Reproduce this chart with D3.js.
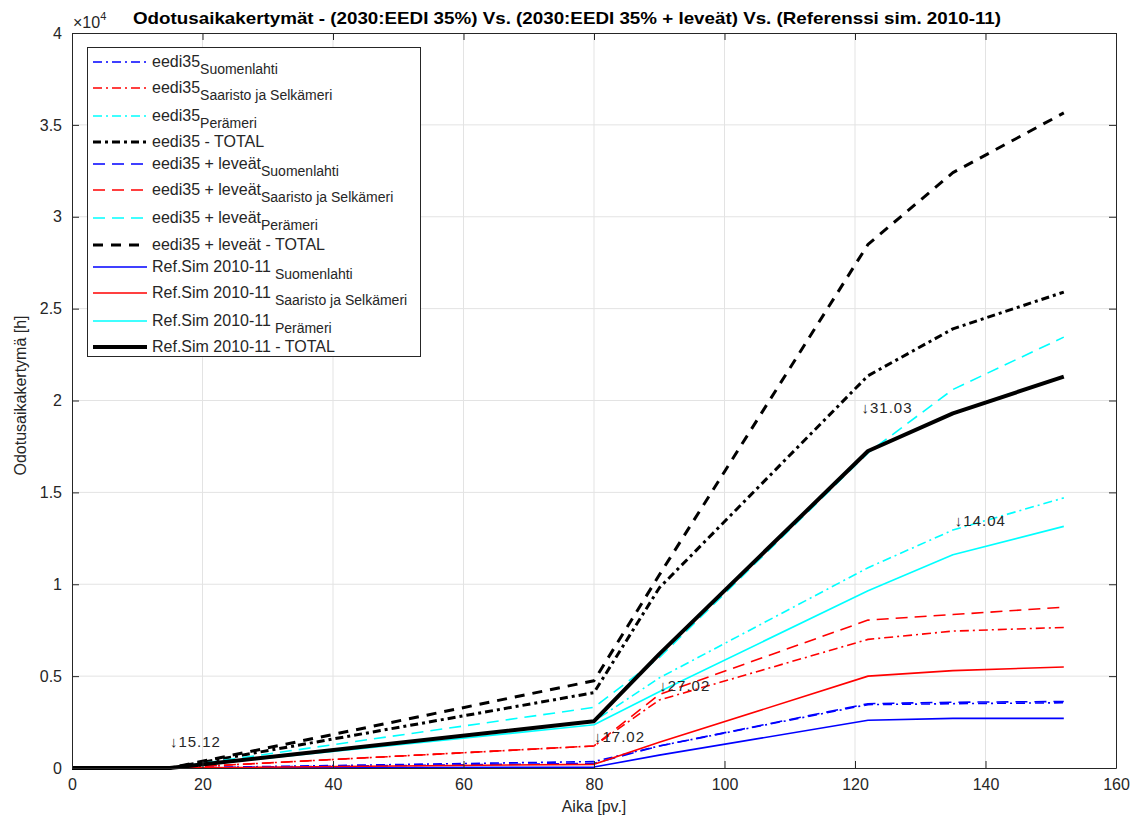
<!DOCTYPE html>
<html>
<head>
<meta charset="utf-8">
<script src="https://cdn.jsdelivr.net/npm/d3@7"></script>
<style>
    body { margin: 0; background: #fff; }
    svg { font-family: "Liberation Sans", Arial, Helvetica, sans-serif; }
</style>
</head>
<body>
<svg id="chart" width="1137" height="821"></svg>
<script>
    // days of the season (x) and cumulative waiting time [h]
    const days = [0, 15, 80, 90, 122, 135, 152];

    const eedi35Suomenlahti = [0, 0, 350, 1200, 3450, 3500, 3550];
    const eedi35Saaristo    = [0, 0, 1200, 3700, 7000, 7450, 7650];
    const eedi35Peramer     = [0, 0, 2550, 4900, 10900, 12950, 14700];
    const eedi35Total       = [0, 0, 4100, 9800, 21350, 23900, 25900];

    const leveatSuomenlahti = [0, 0, 250, 1200, 3500, 3580, 3620];
    const leveatSaaristo    = [0, 0, 1200, 4000, 8050, 8350, 8750];
    const leveatPeramer     = [0, 0, 3300, 6000, 17150, 20600, 23450];
    const leveatTotal       = [0, 0, 4750, 10500, 28500, 32400, 35650];

    const refSuomenlahti = [0, 0, 50, 700, 2600, 2700, 2700];
    const refSaaristo    = [0, 0, 200, 1400, 5000, 5300, 5500];
    const refPeramer     = [0, 0, 2350, 4150, 9650, 11600, 13150];
    const refTotal       = [0, 0, 2550, 6200, 17250, 19300, 21300];

    const xTicks = [0, 20, 40, 60, 80, 100, 120, 140, 160];
    const yTicks = [0, 5000, 10000, 15000, 20000, 25000, 30000, 35000, 40000];

    // date marks: [day, y, text]
    const dateMarks = [
        [15, 1450, '\u219315.12'],
        [80, 1680, '\u219317.02'],
        [90, 4450, '\u219327.02'],
        [121, 19600, '\u219331.03'],
        [135.3, 13450, '\u219314.04']
    ];

    const title = 'Odotusaikakertymät - (2030:EEDI 35%) Vs. (2030:EEDI 35% + leveät) Vs. (Referenssi sim. 2010-11)';

    const dashDot = '9,4,2,4';
    const dashed = '12,7';
    const series = [
        { name: 'eedi35', sub: 'Suomenlahti', values: eedi35Suomenlahti, color: '#0000ff', dash: dashDot, w: 1.6 },
        { name: 'eedi35', sub: 'Saaristo ja Selkämeri', values: eedi35Saaristo, color: '#ff0000', dash: dashDot, w: 1.6 },
        { name: 'eedi35', sub: 'Perämeri', values: eedi35Peramer, color: '#00ffff', dash: dashDot, w: 1.6 },
        { name: 'eedi35 - TOTAL', sub: '', values: eedi35Total, color: '#000000', dash: '8,4,3,4', w: 3 },
        { name: 'eedi35 + leveät', sub: 'Suomenlahti', values: leveatSuomenlahti, color: '#0000ff', dash: dashed, w: 1.6 },
        { name: 'eedi35 + leveät', sub: 'Saaristo ja Selkämeri', values: leveatSaaristo, color: '#ff0000', dash: dashed, w: 1.6 },
        { name: 'eedi35 + leveät', sub: 'Perämeri', values: leveatPeramer, color: '#00ffff', dash: dashed, w: 1.6 },
        { name: 'eedi35 + leveät - TOTAL', sub: '', values: leveatTotal, color: '#000000', dash: '10,8', w: 3 },
        { name: 'Ref.Sim 2010-11', sub: 'Suomenlahti', values: refSuomenlahti, color: '#0000ff', dash: null, w: 1.6 },
        { name: 'Ref.Sim 2010-11', sub: 'Saaristo ja Selkämeri', values: refSaaristo, color: '#ff0000', dash: null, w: 1.6 },
        { name: 'Ref.Sim 2010-11', sub: 'Perämeri', values: refPeramer, color: '#00ffff', dash: null, w: 1.6 },
        { name: 'Ref.Sim 2010-11 - TOTAL', sub: '', values: refTotal, color: '#000000', dash: null, w: 4 }
    ];

    const svg = d3.select('#chart');
    const mLeft = 72, mRight = 1116, mTop = 33, mBottom = 768;
    const axisColor = '#262626';

    const x = d3.scaleLinear().domain([0, 160]).range([mLeft, mRight]);
    const y = d3.scaleLinear().domain([0, 40000]).range([mBottom, mTop]);

    // grid
    const grid = svg.append('g').attr('stroke', '#e3e3e3').attr('stroke-width', 1);
    grid.selectAll('line.gx').data(xTicks.slice(1, -1)).join('line')
        .attr('x1', d => x(d)).attr('x2', d => x(d)).attr('y1', mTop).attr('y2', mBottom);
    grid.selectAll('line.gy').data(yTicks.slice(1, -1)).join('line')
        .attr('y1', d => y(d)).attr('y2', d => y(d)).attr('x1', mLeft).attr('x2', mRight);

    // lines
    const line = d3.line().x((d, i) => x(days[i])).y(d => y(d));
    const plot = svg.append('g').attr('fill', 'none').attr('stroke-linejoin', 'round');
    series.forEach(s => {
        plot.append('path')
            .attr('d', line(s.values))
            .attr('stroke', s.color)
            .attr('stroke-width', s.w)
            .attr('stroke-dasharray', s.dash);
    });

    // axes with inward ticks
    const styleAxis = g => {
        g.select('.domain').attr('stroke', axisColor);
        g.selectAll('.tick line').attr('stroke', axisColor);
        g.selectAll('.tick text').attr('fill', axisColor).style('font-size', '16px')
            .style('font-family', '"Liberation Sans", Arial, sans-serif');
    };
    svg.append('g').attr('transform', `translate(0,${mBottom})`)
        .call(d3.axisBottom(x).tickValues(xTicks).tickSizeInner(-7).tickSizeOuter(0).tickPadding(11))
        .call(styleAxis);
    svg.append('g').attr('transform', `translate(0,${mTop})`)
        .call(d3.axisTop(x).tickValues(xTicks).tickSizeInner(-7).tickSizeOuter(0).tickFormat(''))
        .call(styleAxis);
    svg.append('g').attr('transform', `translate(${mLeft},0)`)
        .call(d3.axisLeft(y).tickValues(yTicks).tickSizeInner(-7).tickSizeOuter(0).tickPadding(10)
            .tickFormat(d => d / 10000))
        .call(styleAxis);
    svg.append('g').attr('transform', `translate(${mRight},0)`)
        .call(d3.axisRight(y).tickValues(yTicks).tickSizeInner(-7).tickSizeOuter(0).tickFormat(''))
        .call(styleAxis);

    // date marks
    svg.append('g').selectAll('text').data(dateMarks).join('text')
        .attr('x', d => x(d[0]))
        .attr('y', d => y(d[1]))
        .attr('dy', '0.35em')
        .attr('fill', axisColor)
        .style('font-size', '15px')
        .style('letter-spacing', '1px')
        .text(d => d[2]);

    // titles
    svg.append('text')
        .attr('x', 133).attr('y', 24)
        .attr('textLength', 868)
        .attr('lengthAdjust', 'spacingAndGlyphs')
        .style('font-size', '17px').style('font-weight', 'bold')
        .attr('fill', '#000')
        .text(title);

    const exp = svg.append('text').attr('x', 73).attr('y', 28).attr('fill', axisColor).style('font-size', '16px');
    exp.append('tspan').text('\u00d710');
    exp.append('tspan').attr('dy', -8).style('font-size', '11px').text('4');

    svg.append('text')
        .attr('x', x(80)).attr('y', 812)
        .attr('text-anchor', 'middle')
        .attr('fill', axisColor)
        .style('font-size', '16px')
        .text('Aika [pv.]');

    svg.append('text')
        .attr('transform', `translate(26,${y(20000) - 5}) rotate(-90)`)
        .attr('text-anchor', 'middle')
        .attr('fill', axisColor)
        .style('font-size', '16px')
        .text('Odotusaikakertymä [h]');

    // legend
    const rowY = [62, 88, 116, 142, 164, 190, 218, 245, 267, 293, 321, 347];
    const legend = svg.append('g');
    legend.append('rect')
        .attr('x', 87.5).attr('y', 47.5).attr('width', 333).attr('height', 309)
        .attr('fill', '#fff').attr('stroke', axisColor).attr('stroke-width', 1);
    series.forEach((s, i) => {
        const yy = rowY[i];
        legend.append('line')
            .attr('x1', 93).attr('x2', 147).attr('y1', yy).attr('y2', yy)
            .attr('stroke', s.color).attr('stroke-width', s.w)
            .attr('stroke-dasharray', s.dash);
        const t = legend.append('text')
            .attr('x', 152).attr('y', yy + 5)
            .attr('fill', axisColor)
            .style('font-size', '16px');
        t.append('tspan').text(s.name);
        if (s.sub) {
            t.append('tspan')
                .attr('dy', 7)
                .attr('dx', s.name.startsWith('Ref') ? 4 : 0)
                .style('font-size', '14px')
                .text(s.sub);
        }
    });
</script>
</body>
</html>
